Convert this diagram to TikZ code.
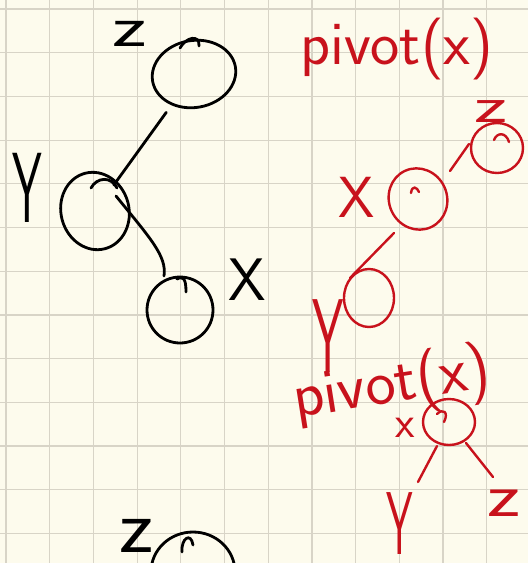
\documentclass[tikz,border=0pt]{standalone}
\usetikzlibrary{shapes.geometric,calc}
\definecolor{paper}{RGB}{253,251,237}
\definecolor{gridc}{RGB}{216,212,199}
\definecolor{redink}{RGB}{200,18,28}
\tikzset{
 bcirc/.style={ellipse, draw=black, line width=2.8pt, inner sep=0pt},
 rcirc/.style={ellipse, draw=redink, line width=2.4pt, inner sep=0pt},
 bline/.style={draw=black, line width=2.8pt, line cap=round},
 rline/.style={draw=redink, line width=2.4pt, line cap=round},
 blab/.style={text=black, font=\sffamily, inner sep=0pt},
 rlab/.style={text=redink, font=\sffamily, inner sep=0pt},
 gridline/.style={draw=gridc, line width=1.2pt},
}
\begin{document}
\begin{tikzpicture}[x=1pt,y=-1pt]
\useasboundingbox (0,0) rectangle (528,563);
\begin{scope}
\clip (0,0) rectangle (528,563);
\fill[paper] (0,0) rectangle (528,563);
\foreach \i in {0,...,11} \draw[gridline] ({6+43.7*\i},0) -- ({6+43.7*\i},563);
\foreach \j in {0,...,12} \draw[gridline] (0,{9+43.7*\j}) -- (528,{9+43.7*\j});

% ---------- black tree ----------
\node[bcirc, minimum width=84pt, minimum height=67pt, rotate=10] (bz) at (194,74) {};
\draw[bline] ($(bz)+(-14,-26)$) .. controls ($(bz)+(-8,-37)$) and ($(bz)+(6,-40)$) .. ($(bz)+(5,-28)$);
\node[blab, font=\sffamily\fontsize{65}{65}\selectfont] (bzl) at (130,34) {\scalebox{1.3}[0.9]{z}};

\node[bcirc, minimum width=68pt, minimum height=78pt, rotate=15] (by) at (95,211) {};
\draw[bline] ($(by)+(-4,-23)$) .. controls ($(by)+(2,-34)$) and ($(by)+(16,-35)$) .. ($(by)+(22,-23)$);
\node[blab, font=\sffamily\fontsize{95}{95}\selectfont] (byl) at (27,188) {\scalebox{0.5}[1.05]{Y}};

\node[bcirc, minimum width=66pt, minimum height=66pt] (bx) at (180,310) {};
\draw[bline] ($(bx)+(-3,-31)$) .. controls ($(bx)+(3,-34)$) and ($(bx)+(6,-32)$) .. ($(bx)+(6,-18)$);
\node[blab, font=\sffamily\fontsize{60}{60}\selectfont] (bxl) at (247,280) {X};

\draw[bline] ($(bz)!0.28!(by)$) -- ($(bz)!0.81!(by)$);
\draw[bline] ($(by)+(21,-15)$) .. controls ($(by)+(55,27)$) and ($(by)+(72,45)$) .. ($(bx)+(-16,-34)$);

\node[blab, font=\sffamily\fontsize{70}{70}\selectfont] (bzl2) at (137,536) {\scalebox{1.2}[1.1]{z}};
\node[bcirc, minimum width=84pt, minimum height=80pt] (bz2) at (193,572) {};
\draw[bline] ($(bz2)+(-11,-20)$) .. controls ($(bz2)+(-12,-34)$) and ($(bz2)+(-2,-40)$) .. ($(bz2)+(0,-27)$);

% ---------- red: first pivot ----------
\node[rlab, anchor=base west, font=\sffamily\fontsize{62}{62}\selectfont] (p1) at (300,64) {pivot(x)};

\node[rlab, font=\sffamily\fontsize{60}{60}\selectfont] (rzl) at (491,112) {\scalebox{1.35}[0.85]{z}};
\node[rcirc, minimum width=52pt, minimum height=50pt] (rz) at (497,148) {};
\draw[rline] ($(rz)+(-3,-8)$) .. controls ($(rz)+(0,-16)$) and ($(rz)+(9,-16)$) .. ($(rz)+(12,-6)$);

\node[rcirc, minimum width=58pt, minimum height=62pt, rotate=25] (rx) at (418,199) {};
\draw[rline] ($(rx)+(-7,-6)$) .. controls ($(rx)+(-6,-14)$) and ($(rx)+(-1,-12)$) .. ($(rx)+(1,-7)$);
\node[rlab, font=\sffamily\fontsize{58}{58}\selectfont] (rxl) at (357,197) {X};

\node[rcirc, minimum width=50pt, minimum height=58pt] (ry) at (369,298) {};
\node[rlab, font=\sffamily\fontsize{100}{100}\selectfont] (ryl) at (328,336) {\scalebox{0.5}[1.05]{Y}};

\draw[rline] ($(rx)+(32,-28)$) -- ($(rz)+(-28,-4)$);
\draw[rline] ($(rx)+(-24,34)$) -- ($(ry)+(-19,-20)$);

% ---------- red: second pivot ----------
\node[rlab, anchor=base west, rotate=9, font=\sffamily\fontsize{64}{64}\selectfont] (p2) at (296,418) {pivot(x)};

\node[rcirc, minimum width=52pt, minimum height=46pt] (rx2) at (449,422) {};
\draw[rline] ($(rx2)+(-12,-8)$) .. controls ($(rx2)+(-6,-14)$) and ($(rx2)+(0,-10)$) .. ($(rx2)+(-5,0)$);
\node[rlab, font=\sffamily\fontsize{45}{45}\selectfont] (rxl2) at (405,428) {x};

\node[rlab, font=\sffamily\fontsize{85}{85}\selectfont] (ryl2) at (400,524) {\scalebox{0.5}[1.05]{Y}};
\node[rlab, font=\sffamily\fontsize{65}{65}\selectfont] (rzl2) at (504,503) {\scalebox{1.25}[0.95]{z}};

\draw[rline] ($(rx2)+(-12,24)$) -- ($(ryl2)+(18,-42)$);
\draw[rline] ($(rx2)+(17,21)$) -- ($(rzl2)+(-11,-26)$);
\end{scope}
\end{tikzpicture}
\end{document}
